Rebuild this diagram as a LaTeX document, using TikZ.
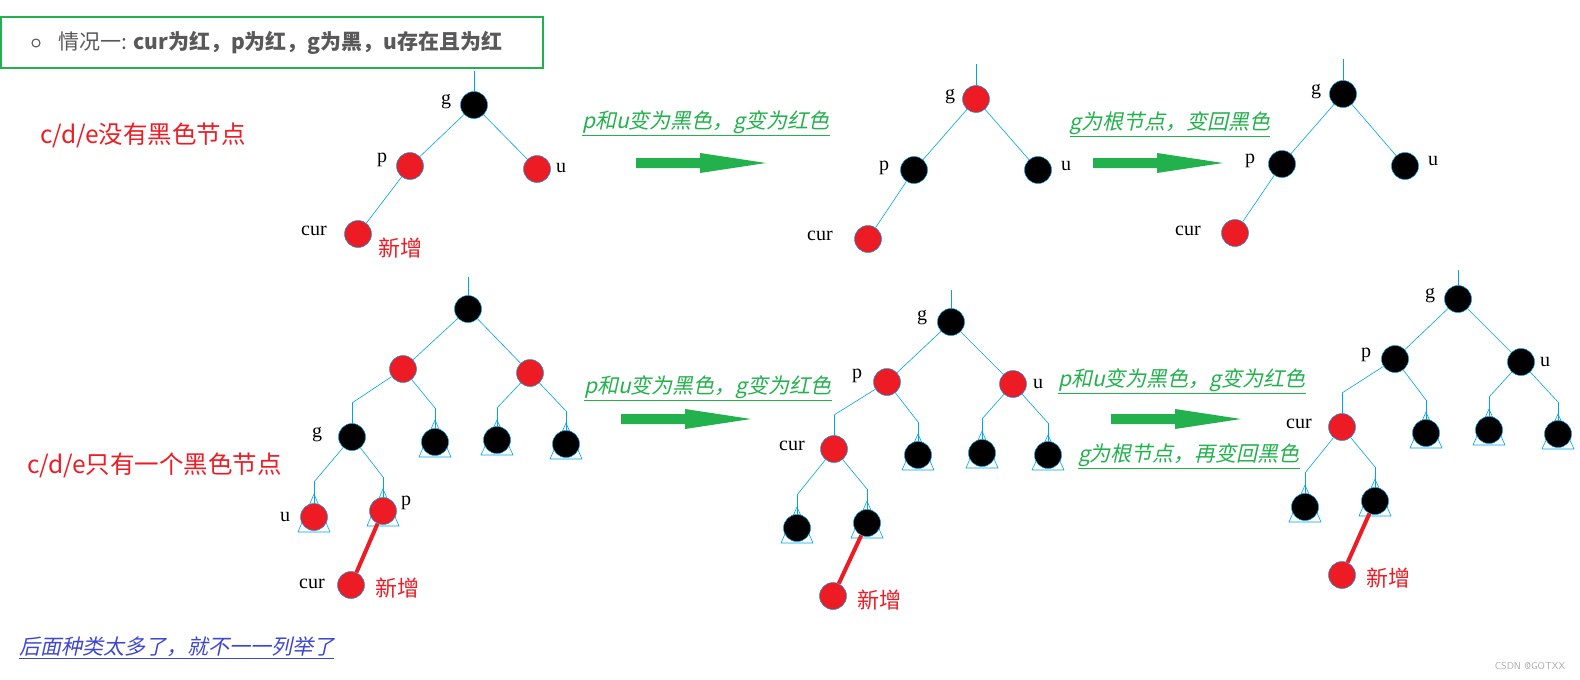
\documentclass[tikz,border=0pt]{standalone}
\usepackage{fontspec}
\setmainfont{Liberation Serif}
\newfontfamily\cjk{Noto Sans CJK SC}
\newfontfamily\cjkit[FakeSlant=0.22]{Noto Sans CJK SC}
\usetikzlibrary{positioning,arrows.meta}
\definecolor{rbred}{RGB}{237,28,36}
\definecolor{edgeblue}{RGB}{0,162,232}
\definecolor{notegreen}{RGB}{34,177,76}
\definecolor{notegray}{RGB}{89,89,89}
\definecolor{noteblue}{RGB}{63,72,204}
\definecolor{markgray}{RGB}{170,170,170}

\tikzset{
    tnode/.style={circle, minimum size=27pt, inner sep=0pt, draw=edgeblue, line width=0.5pt},
    blk/.style={tnode, fill=black},
    rd/.style={tnode, fill=rbred},
    edge/.style={edgeblue, line width=0.6pt},
    newedge/.style={rbred, line width=4pt},
    lbl/.style={font=\fontsize{20}{22}\selectfont, inner sep=0pt},
    sidenote/.style={anchor=west, text=rbred, inner sep=0pt, font=\cjk\fontsize{24.5}{28}\selectfont},
    addnote/.style={text=rbred, inner sep=0pt, font=\cjk\fontsize{22}{26}\selectfont},
    stepnote/.style={text=notegreen, inner sep=0pt, font=\cjkit\fontsize{21}{24}\selectfont},
    bigarrow/.style={fill=notegreen}
}

\begin{document}
\begin{tikzpicture}[x=1pt, y=-1pt, >=Stealth]
    \useasboundingbox (0,0) rectangle (1580,680);

    % ═══════════════════════════════════════════════════════════════════════════
    % TITRE
    % ═══════════════════════════════════════════════════════════════════════════

    \draw[notegreen, line width=2.5pt] (1,17) rectangle (543,68);
    \draw[notegray, line width=1.1pt] (36,43) circle (4pt);
    \node[anchor=west, text=notegray, inner sep=0pt, font=\cjk\fontsize{21}{24}\selectfont] (head) at (58,43)
        {情况一: {\bfseries cur为红，p为红，g为黑，u存在且为红}};

    \node[sidenote] (case1) at (40,135) {c/d/e没有黑色节点};
    \node[sidenote] (case2) at (27,465) {c/d/e只有一个黑色节点};

    % ═══════════════════════════════════════════════════════════════════════════
    % ARBRES DU HAUT
    % ═══════════════════════════════════════════════════════════════════════════

    % racines avec tige
    \foreach \n/\x/\y/\t/\c in {t1g/474/105/71/blk, t2g/976/99/64/rd, t3g/1343/94/59/blk,
                                aR/468/309/277/blk, ag/352/437/403/blk,
                                bg/951/322/290/blk, bc/834/449/415/rd,
                                cg/1458/299/270/blk, cc/1342/427/393/rd} {
        \coordinate (\n t) at (\x,\t);
        \draw[edge, line width=1pt] (\n t) -- (\x,\y);
        \node[\c] (\n) at (\x,\y) {};
    }

    \node[rd]  (t1p) at (410,166) {};
    \node[rd]  (t1u) at (537,169) {};
    \node[rd]  (t1c) at (358,234) {};
    \node[blk] (t2p) at (914,170) {};
    \node[blk] (t2u) at (1038,170) {};
    \node[rd]  (t2c) at (868,239) {};
    \node[blk] (t3p) at (1282,164) {};
    \node[blk] (t3u) at (1405,166) {};
    \node[rd]  (t3c) at (1235,233) {};

    \draw[edge] (t1g) -- (t1p);
    \draw[edge] (t1g) -- (t1u);
    \draw[edge] (t1p) -- (t1c);
    \draw[edge] (t2g) -- (t2p);
    \draw[edge] (t2g) -- (t2u);
    \draw[edge] (t2p) -- (t2c);
    \draw[edge] (t3g) -- (t3p);
    \draw[edge] (t3g) -- (t3u);
    \draw[edge] (t3p) -- (t3c);

    \node[lbl] at (446,102) {g};
    \node[lbl] at (382,160) {p};
    \node[lbl] at (561,168) {u};
    \node[lbl] at (314,231) {cur};
    \node[addnote] at (400,248) {新增};

    \node[lbl] at (950,97) {g};
    \node[lbl] at (884,168) {p};
    \node[lbl] at (1066,166) {u};
    \node[lbl] at (820,236) {cur};

    \node[lbl] at (1316,92) {g};
    \node[lbl] at (1250,161) {p};
    \node[lbl] at (1433,161) {u};
    \node[lbl] at (1188,231) {cur};

    % ═══════════════════════════════════════════════════════════════════════════
    % ARBRES DU BAS
    % ═══════════════════════════════════════════════════════════════════════════

    \node[rd] (aL) at (403,369) {};
    \node[rd] (aRr) at (530,373) {};
    \node[rd] (ac) at (351,585) {};
    \node[rd] (bp) at (887,382) {};
    \node[rd] (bu) at (1013,384) {};
    \node[rd] (bn) at (833,596) {};
    \node[blk] (cp) at (1395,359) {};
    \node[blk] (cu) at (1521,362) {};
    \node[rd] (cn) at (1342,575) {};

    % sous-arbres (triangles)
    \foreach \n/\x/\y/\t/\c in {a4/435/442/408/blk, a5/497/440/408/blk, a6/566/444/411/blk,
                                au/314/517/482/rd, ap/383/511/477/rd,
                                b4/918/455/422/blk, b5/982/453/419/blk, b6/1048/455/423/blk,
                                b7/797/528/495/blk, b8/867/523/489/blk,
                                c4/1426/433/400/blk, c5/1489/430/397/blk, c6/1558/434/402/blk,
                                c7/1305/507/473/blk, c8/1375/501/467/blk} {
        \coordinate (\n t) at (\x,\t);
        \draw[edge, line width=1pt] (\n t) -- (\x,\y);
        \draw[edge] (\x,{\t+12}) -- ({\x-16},{\y+15}) -- ({\x+16},{\y+15}) -- cycle;
        \node[\c] (\n) at (\x,\y) {};
    }

    \draw[edge] (aR) -- (aL);
    \draw[edge] (aR) -- (aRr);
    \draw[edge] (aL) -- (agt);
    \draw[edge] (aL) -- (a4t);
    \draw[edge] (aRr) -- (a5t);
    \draw[edge] (aRr) -- (a6t);
    \draw[edge] (ag) -- (aut);
    \draw[edge] (ag) -- (apt);
    \draw[newedge] (ap) -- (ac);

    \draw[edge] (bg) -- (bp);
    \draw[edge] (bg) -- (bu);
    \draw[edge] (bp) -- (bct);
    \draw[edge] (bp) -- (b4t);
    \draw[edge] (bu) -- (b5t);
    \draw[edge] (bu) -- (b6t);
    \draw[edge] (bc) -- (b7t);
    \draw[edge] (bc) -- (b8t);
    \draw[newedge] (b8) -- (bn);

    \draw[edge] (cg) -- (cp);
    \draw[edge] (cg) -- (cu);
    \draw[edge] (cp) -- (cct);
    \draw[edge] (cp) -- (c4t);
    \draw[edge] (cu) -- (c5t);
    \draw[edge] (cu) -- (c6t);
    \draw[edge] (cc) -- (c7t);
    \draw[edge] (cc) -- (c8t);
    \draw[newedge] (c8) -- (cn);

    \node[lbl] at (317,435) {g};
    \node[lbl] at (285,517) {u};
    \node[lbl] at (406,503) {p};
    \node[lbl] at (312,584) {cur};
    \node[addnote] at (397,588) {新增};

    \node[lbl] at (922,318) {g};
    \node[lbl] at (857,376) {p};
    \node[lbl] at (1038,384) {u};
    \node[lbl] at (792,446) {cur};
    \node[addnote] at (879,600) {新增};

    \node[lbl] at (1430,296) {g};
    \node[lbl] at (1366,355) {p};
    \node[lbl] at (1545,362) {u};
    \node[lbl] at (1299,424) {cur};
    \node[addnote] at (1388,578) {新增};

    % ═══════════════════════════════════════════════════════════════════════════
    % FLECHES ET ETAPES
    % ═══════════════════════════════════════════════════════════════════════════

    \foreach \x/\y in {636/163, 1093/163, 621/419, 1111/419} {
        \fill[bigarrow] (\x,{\y-5}) -- ({\x+64},{\y-5}) -- ({\x+64},{\y-10}) -- ({\x+130},\y)
            -- ({\x+64},{\y+10}) -- ({\x+64},{\y+5}) -- (\x,{\y+5}) -- cycle;
    }

    \node[stepnote] (s1) at (706,123) {\underline{p和u变为黑色，g变为红色}};
    \node[stepnote] (s2) at (1170,124) {\underline{g为根节点，变回黑色}};
    \node[stepnote] (s3) at (708,388) {\underline{p和u变为黑色，g变为红色}};
    \node[stepnote] (s4) at (1182,381) {\underline{p和u变为黑色，g变为红色}};
    \node[stepnote] (s5) at (1189,456) {\underline{g为根节点，再变回黑色}};

    \node[anchor=west, text=noteblue, inner sep=0pt, font=\cjkit\fontsize{21}{24}\selectfont] (more) at (19,648)
        {\underline{后面种类太多了，就不一一列举了}};

    \node[text=markgray, inner sep=0pt, font=\fontsize{10}{12}\sffamily] (mark) at (1530,666) {CSDN @GOTXX};

\end{tikzpicture}
\end{document}
